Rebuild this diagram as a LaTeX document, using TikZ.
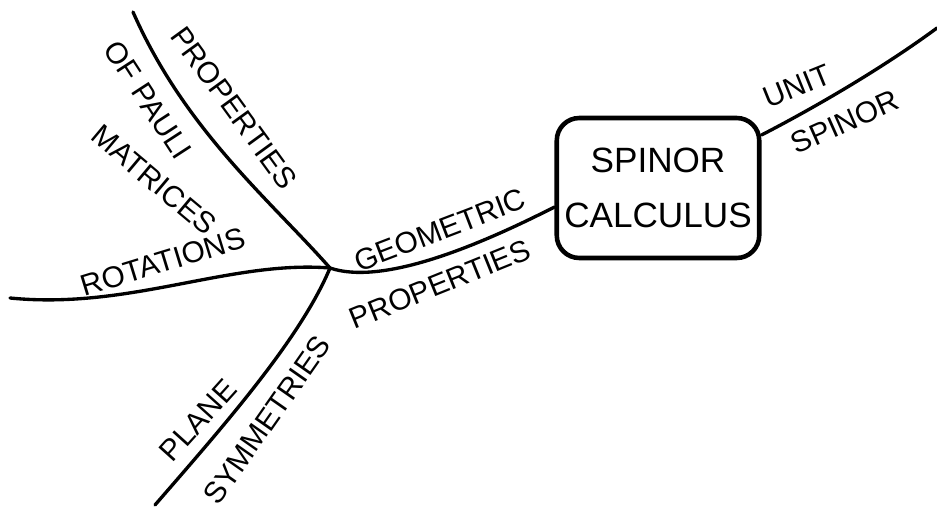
\documentclass[tikz,border=0pt]{standalone}
\usepackage{fontspec}
\setmainfont{Liberation Sans}

\begin{document}
\begin{tikzpicture}[x=0.02cm,y=-0.02cm,
    branch/.style={line width=1.9pt,line cap=round},
    lbl/.style={font=\fontsize{17}{20}\selectfont,inner sep=0pt},
    mainbox/.style={draw,line width=2.6pt,rounded corners=0.45cm,minimum width=4.05cm,minimum height=2.8cm,align=center,font=\fontsize{20}{31}\selectfont}]
    \useasboundingbox (0,0) rectangle (937,521);

    % Draw central topic
    \node[mainbox] (calc) at (658,188) {SPINOR\\CALCULUS};

    % Branch points and free ends
    \coordinate (hub) at (330,268);
    \coordinate (unitend) at (937,28);
    \coordinate (pauliend) at (133,12);
    \coordinate (rotend) at (10,298);
    \coordinate (symend) at (155,505);

    % Draw branches
    \draw[branch] (hub) .. controls (380,285) and (470,250) .. (calc.west |- 0,207);
    \draw[branch] (calc.north east |- 0,135) .. controls (810,110) and (880,70) .. (unitend);
    \draw[branch] (pauliend) .. controls (185,130) and (270,200) .. (hub);
    \draw[branch] (rotend) .. controls (130,310) and (230,260) .. (hub);
    \draw[branch] (hub) .. controls (300,340) and (220,430) .. (symend);

    % Label branches
    \node[lbl,rotate=22] (unit) at (797,86) {UNIT};
    \node[lbl,rotate=24] (spinor) at (845,122) {SPINOR};
    \node[lbl,rotate=21] (geo) at (440,230) {GEOMETRIC};
    \node[lbl,rotate=22] (geoprop) at (440,284) {PROPERTIES};
    \node[lbl,rotate=-54] (pauliprop) at (234,108) {PROPERTIES};
    \node[lbl,rotate=-57] (pauli) at (148,100) {OF PAULI};
    \node[lbl,rotate=-40] (matrices) at (154,180) {MATRICES};
    \node[lbl,rotate=17] (rot) at (163,262) {ROTATIONS};
    \node[lbl,rotate=48] (plane) at (198,420) {PLANE};
    \node[lbl,rotate=55] (sym) at (267,420) {SYMMETRIES};
\end{tikzpicture}
\end{document}
